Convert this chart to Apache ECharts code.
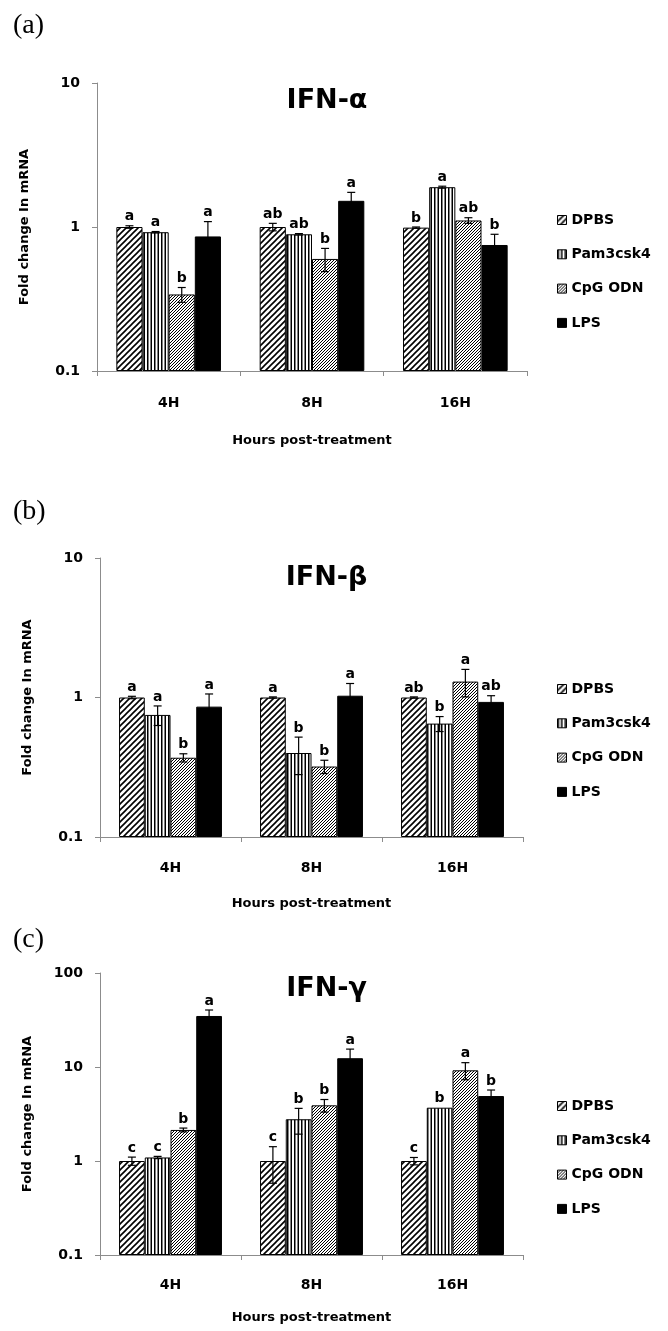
<!DOCTYPE html>
<html><head><meta charset="utf-8">
<script src="https://cdn.jsdelivr.net/npm/echarts@6/dist/echarts.min.js"></script>
<style>html,body{margin:0;padding:0;background:#fff}#c{width:668px;height:1331px}</style>
</head><body><div id="c"></div>
<script>
const categories = ['4H', '8H', '16H'];
const seriesNames = ['DPBS', 'Pam3csk4', 'CpG ODN', 'LPS'];
const yTickLabels = ['0.1', '1', '10', '100'];
const panelTitles = ['IFN-α', 'IFN-β', 'IFN-γ'];
const panelTags = ['(a)', '(b)', '(c)'];
const yAxisName = 'Fold change In mRNA';
const xAxisName = 'Hours post-treatment';

// rows = series (DPBS, Pam3csk4, CpG ODN, LPS); columns = 4H, 8H, 16H
const alphaMean = [[1.00, 1.00, 0.99], [0.92, 0.89, 1.89], [0.34, 0.60, 1.11], [0.86, 1.52, 0.75]];
const alphaErr = [[0.02, 0.06, 0.01], [0.01, 0.01, 0.03], [0.04, 0.11, 0.05], [0.23, 0.22, 0.14]];
const alphaLetters = [['a', 'ab', 'b'], ['a', 'ab', 'a'], ['b', 'b', 'ab'], ['a', 'a', 'b']];

const betaMean = [[1.00, 1.00, 1.00], [0.75, 0.40, 0.65], [0.37, 0.32, 1.30], [0.86, 1.03, 0.93]];
const betaErr = [[0.02, 0.01, 0.01], [0.12, 0.12, 0.08], [0.025, 0.035, 0.29], [0.20, 0.23, 0.10]];
const betaLetters = [['a', 'a', 'ab'], ['a', 'b', 'b'], ['b', 'b', 'a'], ['a', 'a', 'ab']];

const gammaMean = [[1.00, 1.00, 1.00], [1.09, 2.78, 3.69], [2.14, 3.91, 9.22], [34.9, 12.4, 4.91]];
const gammaErr = [[0.10, 0.42, 0.09], [0.03, 0.85, 0.0], [0.10, 0.60, 1.9], [5.5, 3.1, 0.78]];
const gammaLetters = [['c', 'c', 'c'], ['c', 'b', 'b'], ['b', 'b', 'a'], ['a', 'a', 'b']];

const FONT = 'DejaVu Sans';
const GAP = 0.27;

function pattern(kind) {
  const c = document.createElement('canvas');
  const g = c.getContext('2d');
  if (kind === 'solid') return '#000';
  let p = kind === 'wide' ? 6 : (kind === 'fine' ? 3 : 7);
  c.width = p; c.height = p;
  g.fillStyle = '#fff'; g.fillRect(0, 0, p, p);
  g.fillStyle = '#000'; g.strokeStyle = '#000';
  if (kind === 'vert') {
    g.fillRect(0, 0, 1.5, p); g.fillRect(3.5, 0, 1.5, p);
  } else {
    g.lineWidth = kind === 'wide' ? 1.6 : 1.0;
    g.beginPath();
    g.moveTo(-1, p + 1); g.lineTo(p + 1, -1);
    g.moveTo(-2, 2); g.lineTo(2, -2);
    g.moveTo(p - 2, p + 2); g.lineTo(p + 2, p - 2);
    g.stroke();
  }
  return { image: c, repeat: 'repeat' };
}
const fills = [pattern('wide'), pattern('vert'), pattern('fine'), pattern('solid')];

const panels = [
  { mean: alphaMean, err: alphaErr, letters: alphaLetters, max: 10, left: 97, top: 83, width: 430, height: 288, titleY: 101, tagY: 26, legendTop: 207, labelMargin: 25, nameGap: 63 },
  { mean: betaMean, err: betaErr, letters: betaLetters, max: 10, left: 100, top: 558, width: 423, height: 279, titleY: 578, tagY: 512, legendTop: 676, labelMargin: 24, nameGap: 60 },
  { mean: gammaMean, err: gammaErr, letters: gammaLetters, max: 100, left: 100, top: 973, width: 423, height: 282, titleY: 989, tagY: 940, legendTop: 1093, labelMargin: 23, nameGap: 56 }
];

function makeRenderer(p) {
  return function (params, api) {
    const ci = api.value(0), val = api.value(1), e = api.value(2), si = api.value(3);
    const band = api.size([1, 0])[0];
    const bw = band * (1 - GAP) / 4;
    const cx = api.coord([ci, val])[0] + (si - 1.5) * bw;
    const yTop = api.coord([ci, val + e])[1];
    const yBot = api.coord([ci, Math.max(val - e, 0.1)])[1];
    const children = [];
    const ls = { stroke: '#000', lineWidth: 1.2 };
    if (e > 0) {
      children.push({ type: 'line', shape: { x1: cx, y1: yTop, x2: cx, y2: yBot }, style: ls });
      children.push({ type: 'line', shape: { x1: cx - 4, y1: yTop, x2: cx + 4, y2: yTop }, style: ls });
      children.push({ type: 'line', shape: { x1: cx - 4, y1: yBot, x2: cx + 4, y2: yBot }, style: ls });
    }
    children.push({ type: 'text', style: { x: cx, y: yTop - 2, text: p.letters[si][ci], font: 'bold 14px "' + FONT + '"', fill: '#000', align: 'center', verticalAlign: 'bottom' } });
    return { type: 'group', children: children };
  };
}

const grid = [], xAxis = [], yAxis = [], series = [], legend = [], graphic = [];
panels.forEach(function (p, pi) {
  grid.push({ left: p.left, top: p.top, width: p.width, height: p.height });
  xAxis.push({
    type: 'category', gridIndex: pi, data: categories,
    axisLine: { lineStyle: { color: '#8c8c8c', width: 1 } },
    axisTick: { show: true, length: 5, lineStyle: { color: '#8c8c8c' } },
    axisLabel: { margin: p.labelMargin, color: '#000', fontFamily: FONT, fontWeight: 'bold', fontSize: 14 },
    name: xAxisName, nameLocation: 'middle', nameGap: p.nameGap,
    nameTextStyle: { color: '#000', fontFamily: FONT, fontWeight: 'bold', fontSize: 13 }
  });
  yAxis.push({
    type: 'log', logBase: 10, gridIndex: pi, min: 0.1, max: p.max, startValue: 0.1,
    axisLine: { show: true, lineStyle: { color: '#8c8c8c', width: 1 } },
    axisTick: { show: true, length: 5, lineStyle: { color: '#8c8c8c' } },
    splitLine: { show: false }, minorTick: { show: false },
    axisLabel: { margin: 17, color: '#000', fontFamily: FONT, fontWeight: 'bold', fontSize: 14,
      formatter: function (v) { return yTickLabels[Math.round(Math.log10(v)) + 1]; } },
    name: yAxisName, nameLocation: 'middle', nameRotate: 90, nameGap: 66,
    nameTextStyle: { color: '#000', fontFamily: FONT, fontWeight: 'bold', fontSize: 13 }
  });
  seriesNames.forEach(function (name, si) {
    series.push({
      type: 'bar', name: name, xAxisIndex: pi, yAxisIndex: pi, data: p.mean[si],
      barGap: '0%', barCategoryGap: (GAP * 100) + '%',
      itemStyle: { color: fills[si], borderColor: '#000', borderWidth: 1 },
      emphasis: { disabled: true }, silent: true
    });
  });
  const cd = [];
  p.mean.forEach(function (row, si) { row.forEach(function (v, ci) { cd.push([ci, v, p.err[si][ci], si]); }); });
  series.push({ type: 'custom', xAxisIndex: pi, yAxisIndex: pi, data: cd, renderItem: makeRenderer(p), z: 10, silent: true, clip: false });
  legend.push({
    orient: 'vertical', left: 552, top: p.legendTop, itemWidth: 9, itemHeight: 9, itemGap: 18.3, icon: 'rect',
    data: seriesNames, selectedMode: false,
    itemStyle: { borderColor: '#000', borderWidth: 1 },
    textStyle: { color: '#000', fontFamily: FONT, fontWeight: 'bold', fontSize: 14, lineHeight: 16 }
  });
  graphic.push({ type: 'text', x: p.left + p.width / 2 + 15, y: p.titleY,
    style: { text: panelTitles[pi], font: 'bold 27px "' + FONT + '"', fill: '#000', align: 'center', verticalAlign: 'middle' } });
  graphic.push({ type: 'text', x: 13, y: p.tagY,
    style: { text: panelTags[pi], font: '28px "Liberation Serif"', fill: '#000', align: 'left', verticalAlign: 'middle' } });
});

const chart = echarts.init(document.getElementById('c'), null, { renderer: 'canvas' });
chart.setOption({ animation: false, backgroundColor: '#fff', grid: grid, xAxis: xAxis, yAxis: yAxis, series: series, legend: legend, graphic: graphic });
</script>
</body></html>
